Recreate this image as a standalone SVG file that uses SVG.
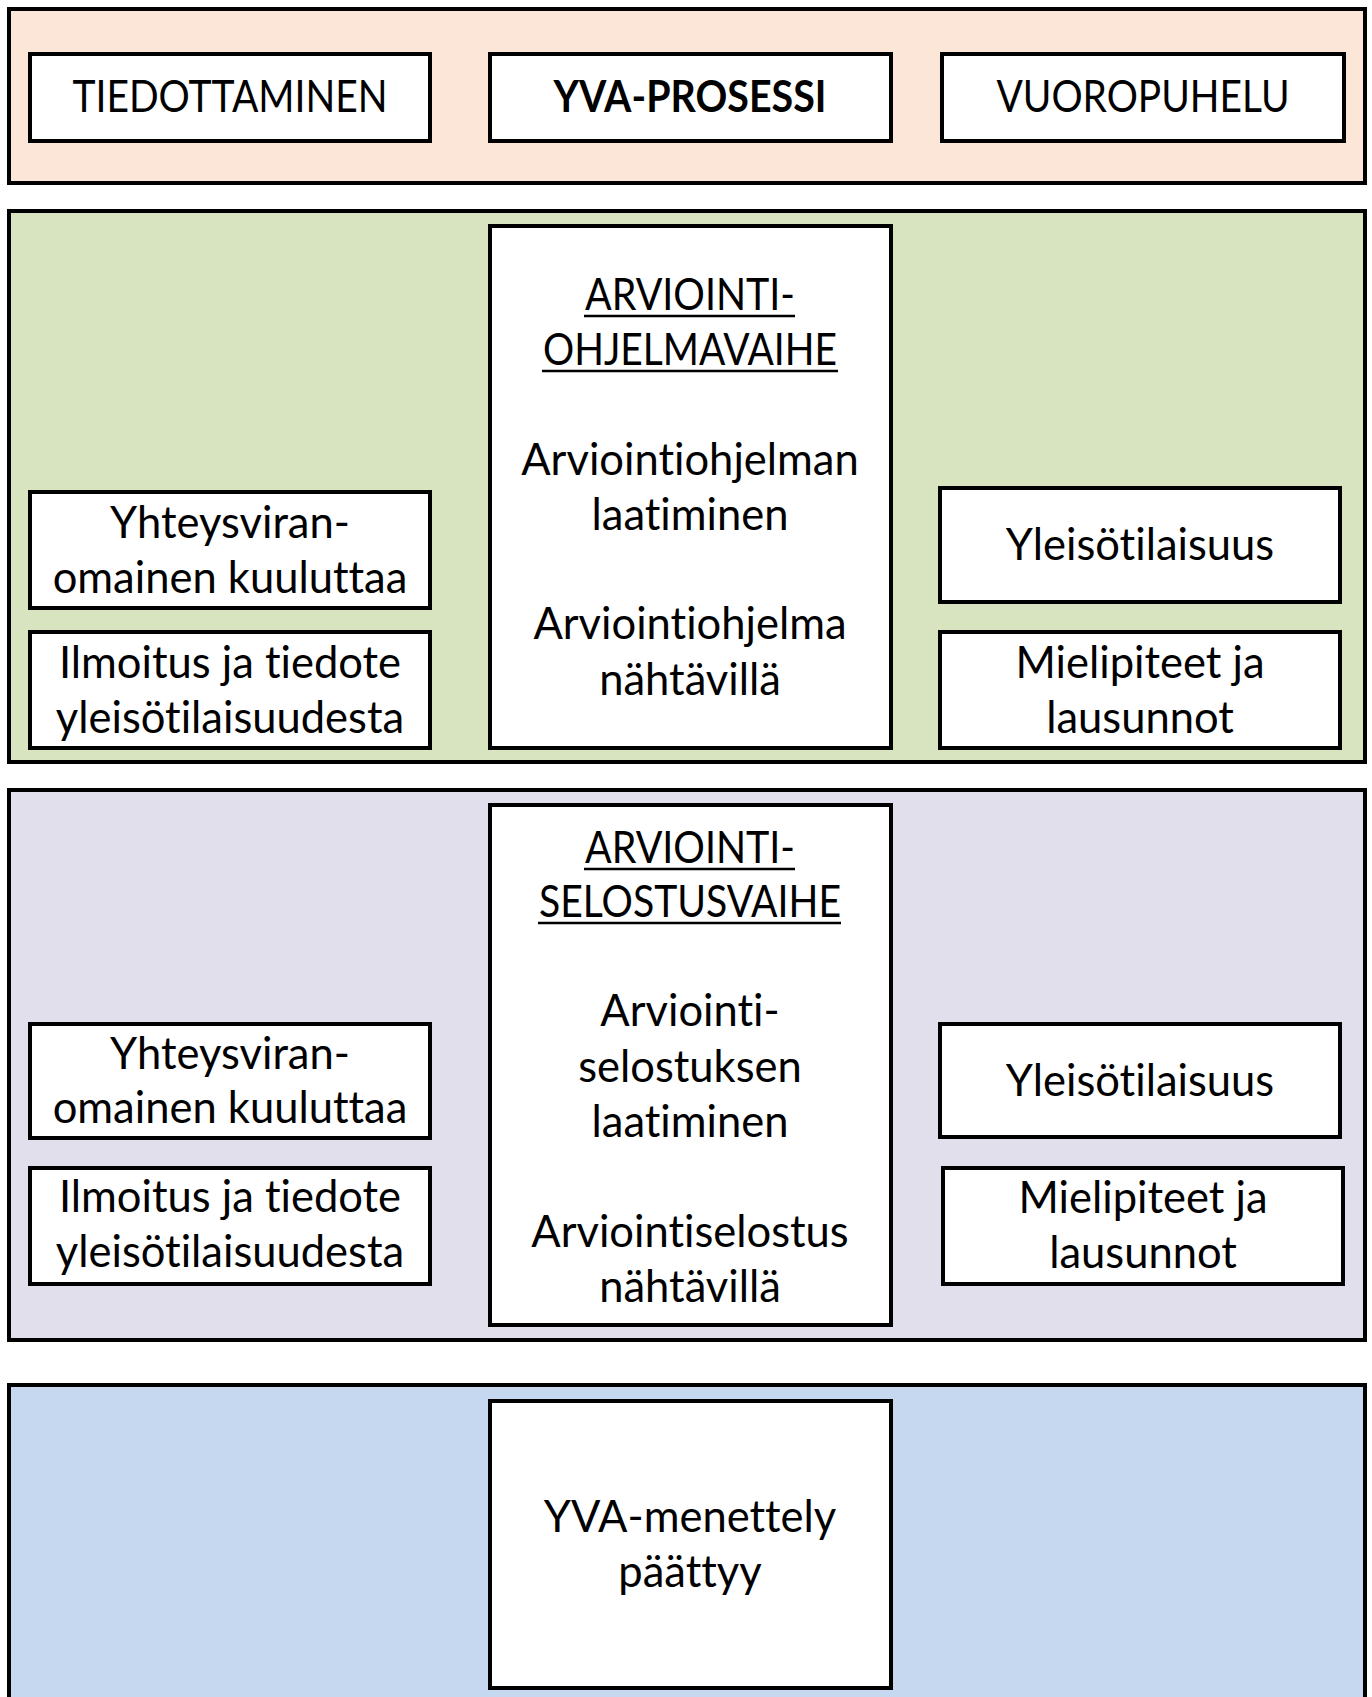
<svg xmlns="http://www.w3.org/2000/svg" width="1372" height="1697" viewBox="0 0 1372 1697">
<style>
.band{stroke:#000;stroke-width:4}
.box{fill:#fff;stroke:#000;stroke-width:4}
text{font-family:Lato,"Liberation Sans",sans-serif;font-size:43.5px;fill:#000;text-anchor:middle;font-variant-ligatures:none;font-feature-settings:"liga" 0,"clig" 0}
.b{font-weight:bold}
.ul{stroke:#000;stroke-width:2.5}
</style>
<rect width="1372" height="1697" fill="#fff"/>
<g id="band-top"><rect class="band" x="9" y="9" width="1356" height="174" fill="#FBE6D8"/></g>
<g id="band-ohjelma"><rect class="band" x="9" y="211" width="1356" height="551" fill="#D8E3BF"/></g>
<g id="band-selostus"><rect class="band" x="9" y="790" width="1356" height="550" fill="#E1DFEB"/></g>
<g id="band-end"><rect class="band" x="9" y="1385" width="1356" height="330" fill="#C6D8EF"/></g>

<g id="tiedottaminen"><rect class="box" x="30" y="54" width="400" height="87"/><text x="230" y="112" textLength="315" lengthAdjust="spacingAndGlyphs">TIEDOTTAMINEN</text></g>
<g id="yva-prosessi"><rect class="box" x="490" y="54" width="401" height="87"/><text class="b" x="690" y="112" textLength="273" lengthAdjust="spacingAndGlyphs">YVA-PROSESSI</text></g>
<g id="vuoropuhelu"><rect class="box" x="942" y="54" width="402" height="87"/><text x="1143" y="112" textLength="293" lengthAdjust="spacingAndGlyphs">VUOROPUHELU</text></g>

<g id="ohjelmavaihe">
<rect class="box" x="490" y="226" width="401" height="522"/>
<text x="690" y="310" textLength="210" lengthAdjust="spacingAndGlyphs">ARVIOINTI-</text>
<line class="ul" x1="584" y1="316" x2="795" y2="316"/>
<text x="690" y="365" textLength="294" lengthAdjust="spacingAndGlyphs">OHJELMAVAIHE</text>
<line class="ul" x1="542" y1="371" x2="838" y2="371"/>
<text x="690" y="475">Arviointiohjelman</text>
<text x="690" y="530">laatiminen</text>
<text x="690" y="639">Arviointiohjelma</text>
<text x="690" y="695">nähtävillä</text>
</g>
<g id="ohjelma-kuulutus"><rect class="box" x="30" y="492" width="400" height="116"/><text x="230" y="538">Yhteysviran-</text><text x="230" y="593">omainen kuuluttaa</text></g>
<g id="ohjelma-ilmoitus"><rect class="box" x="30" y="632" width="400" height="116"/><text x="230" y="678">Ilmoitus ja tiedote</text><text x="230" y="733">yleisötilaisuudesta</text></g>
<g id="ohjelma-yleisotilaisuus"><rect class="box" x="940" y="488" width="400" height="114"/><text x="1140" y="560">Yleisötilaisuus</text></g>
<g id="ohjelma-mielipiteet"><rect class="box" x="940" y="632" width="400" height="116"/><text x="1140" y="678">Mielipiteet ja</text><text x="1140" y="733">lausunnot</text></g>

<g id="selostusvaihe">
<rect class="box" x="490" y="805" width="401" height="520"/>
<text x="690" y="863" textLength="210" lengthAdjust="spacingAndGlyphs">ARVIOINTI-</text>
<line class="ul" x1="584" y1="869" x2="795" y2="869"/>
<text x="690" y="917" textLength="302" lengthAdjust="spacingAndGlyphs">SELOSTUSVAIHE</text>
<line class="ul" x1="538" y1="923" x2="841" y2="923"/>
<text x="690" y="1026">Arviointi-</text>
<text x="690" y="1082">selostuksen</text>
<text x="690" y="1137">laatiminen</text>
<text x="690" y="1247">Arviointiselostus</text>
<text x="690" y="1302">nähtävillä</text>
</g>
<g id="selostus-kuulutus"><rect class="box" x="30" y="1024" width="400" height="114"/><text x="230" y="1069">Yhteysviran-</text><text x="230" y="1123">omainen kuuluttaa</text></g>
<g id="selostus-ilmoitus"><rect class="box" x="30" y="1168" width="400" height="116"/><text x="230" y="1212">Ilmoitus ja tiedote</text><text x="230" y="1267">yleisötilaisuudesta</text></g>
<g id="selostus-yleisotilaisuus"><rect class="box" x="940" y="1024" width="400" height="113"/><text x="1140" y="1096">Yleisötilaisuus</text></g>
<g id="selostus-mielipiteet"><rect class="box" x="943" y="1168" width="400" height="116"/><text x="1143" y="1213">Mielipiteet ja</text><text x="1143" y="1268">lausunnot</text></g>

<g id="yva-paattyy"><rect class="box" x="490" y="1401" width="401" height="287"/><text x="690" y="1532">YVA-menettely</text><text x="690" y="1587">päättyy</text></g>

<g id="connectors"/>
</svg>
